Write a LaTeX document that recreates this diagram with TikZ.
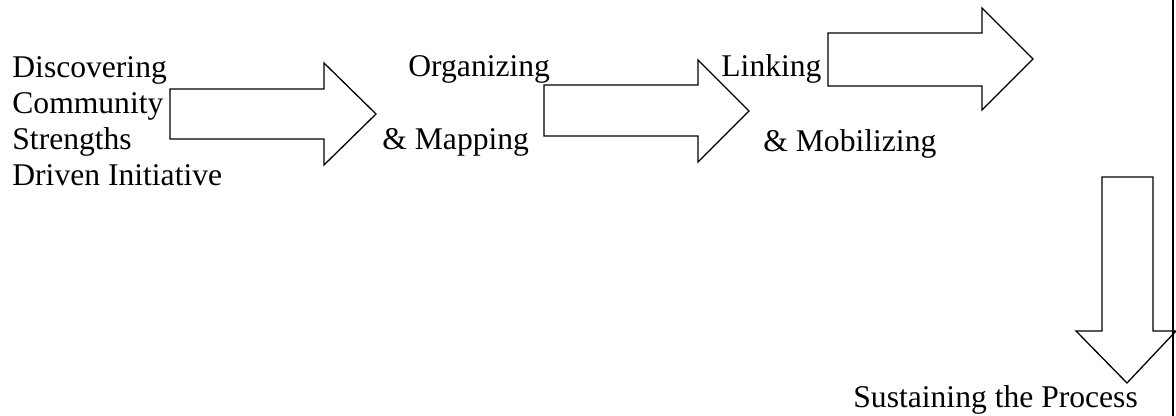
\documentclass[tikz,border=0pt]{standalone}
\usepackage{fontspec}
\setmainfont{Liberation Serif}
\usetikzlibrary{positioning}

\begin{document}
\begin{tikzpicture}[x=0.5pt,y=-0.5pt,
  steptext/.style={anchor=base west,inner sep=0pt,align=left,
    font=\fontsize{15.8}{18}\selectfont},
  blockarrow/.style={line width=0.65pt,line join=miter}]
\useasboundingbox (0,0) rectangle (1176,416);
% texts of the steps
\node[steptext] (discover) at (12,186) {Discovering\\Community\\Strengths\\Driven Initiative};
\node[steptext] (organize) at (408,77) {Organizing};
\node[steptext] (mapping) at (382,150) {\& Mapping};
\node[steptext] (linking) at (721,77) {Linking};
\node[steptext] (mobilize) at (763,152) {\& Mobilizing};
\node[steptext] (sustain) at (853,407) {Sustaining the Process};
% block arrows
\draw [blockarrow] (170,89) -- (324,89) -- (324,63) -- (376,114) -- (324,165) -- (324,139) -- (170,139) -- cycle;
\draw [blockarrow] (544,85) -- (698,85) -- (698,60) -- (749,111) -- (698,162) -- (698,136) -- (544,136) -- cycle;
\draw [blockarrow] (828,33) -- (982,33) -- (982,8) -- (1033,59) -- (982,110) -- (982,86) -- (828,86) -- cycle;
\draw [blockarrow] (1102,177) -- (1153,177) -- (1153,331) -- (1176,331) -- (1127,383) -- (1076,331) -- (1102,331) -- cycle;
%\draw (1173,0) -- (1173,416);
\draw [line width = 1pt] (1173,0) -- (1173,416);
\end{tikzpicture}
\end{document}
